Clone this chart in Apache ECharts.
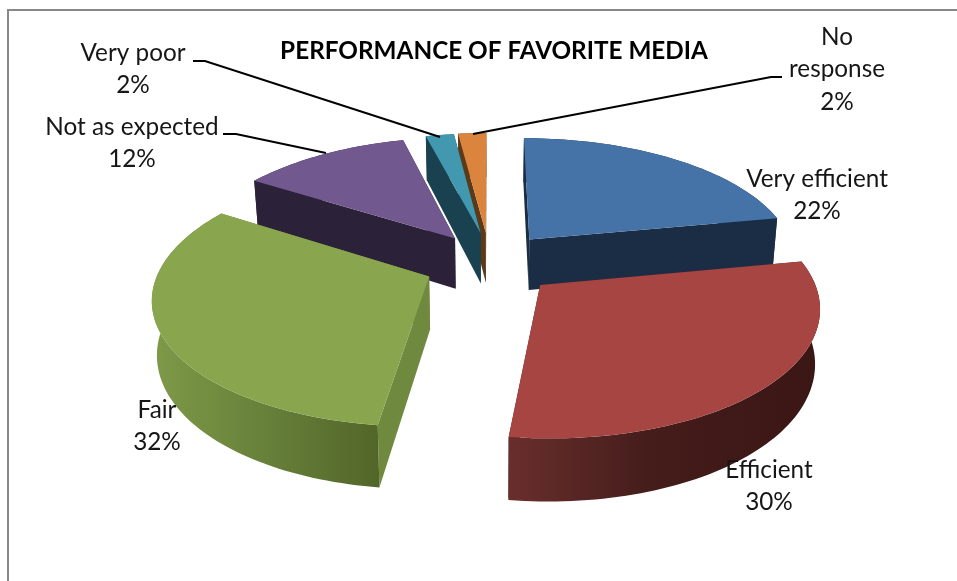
<!DOCTYPE html>
<html>
<head>
<meta charset="utf-8">
<style>html,body{margin:0;padding:0;background:#fff}#chart{width:957px;height:581px}</style>
<script src="https://cdn.jsdelivr.net/npm/echarts@6/dist/echarts.min.js"></script>
</head>
<body>
<div id="chart"></div>
<script>
// Survey answers
const categories = ['Very efficient', 'Efficient', 'Fair', 'Not as expected', 'Very poor', 'No response'];
const shares = [22, 30, 32, 12, 2, 2];

// Fill colours per slice
const topColors = ['#4572a7', '#a64542', '#89a54e', '#71588f', '#4198af', '#db843d'];
const cutColors = ['#1b2d45', '#4a1f1d', '#6f8a3e', '#2b2138', '#1a4150', '#5c3a18'];
const wallStops = [
  [[0, '#1b2d45'], [1, '#1b2d45']],
  [[0, '#682e2c'], [0.45, '#451d1b'], [1, '#3a1614']],
  [[0, '#7f9a48'], [0.5, '#67803a'], [1, '#516528']],
  [[0, '#2b2138'], [1, '#2b2138']],
  [[0, '#1a4150'], [1, '#1a4150']],
  [[0, '#5c3a18'], [1, '#5c3a18']]
];
const wallSpan = [[524, 775], [511, 817], [150, 382], [258, 452], [428, 477], [460, 484]];
// Back-to-front stacking rank
const paintRank = [3, 5, 4, 2, 1, 0];
// Sideways pull of each slice on top of the radial explosion
const sideNudge = [0, 2, 5, 7, 6, 3];

// Projection of the tilted disc
const centre = [487, 263];
const radius = [268, 123];
const perspective = 0.15;
const explode = 0.255;
const depth = 52;
const bottomShrink = 0.985;

// Label blocks: centre x, first line y
const labelLines = [
  { x: 817, y: 179 }, { x: 769, y: 470 }, { x: 157, y: 410 },
  { x: 132, y: 127 }, { x: 133, y: 53 }, { x: 837, y: 37, wrap: ['No', 'response'] }
];
const labelStep = 32.5;
const leaders = { 3: [[223, 134], [236, 134], [326, 153]], 4: [[193, 61], [205, 61], [440, 137]], 5: [[782, 77], [771, 77], [473, 134]] };

function project(wx, wy, lower, nudge) {
  const s = 1 / (1 + perspective * wy);
  const shrink = lower ? bottomShrink : 1;
  return [
    centre[0] + radius[0] * wx * s * shrink + nudge,
    centre[1] - radius[1] * wy * s + (lower ? depth * s : 0)
  ];
}

function renderSlice(params, api) {
  const i = params.dataIndex;
  const value = api.value(1);
  const total = shares.reduce((a, b) => a + b, 0);
  const before = shares.slice(0, i).reduce((a, b) => a + b, 0);
  const a0 = before / total * Math.PI * 2;
  const a1 = (before + value) / total * Math.PI * 2;
  const mid = (a0 + a1) / 2;
  const ox = explode * Math.sin(mid);
  const oy = explode * Math.cos(mid);
  const n = sideNudge[i];

  const steps = Math.max(6, Math.ceil((a1 - a0) * 40));
  const arc = [];
  for (let k = 0; k <= steps; k++) {
    const a = a0 + (a1 - a0) * k / steps;
    arc.push([ox + Math.sin(a), oy + Math.cos(a)]);
  }
  const topArc = arc.map(p => project(p[0], p[1], false, n));
  const lowArc = arc.map(p => project(p[0], p[1], true, n));
  const apexTop = project(ox, oy, false, n);
  const apexLow = project(ox, oy, true, n);
  const base = paintRank[i] * 10 + 1;

  const span = wallSpan[i];
  const wallFill = new echarts.graphic.LinearGradient(span[0], 0, span[1], 0,
    wallStops[i].map(s => ({ offset: s[0], color: s[1] })), true);

  const children = [
    { type: 'polygon', z2: base, silent: true,
      shape: { points: [apexTop, topArc[0], lowArc[0], apexLow] },
      style: { fill: cutColors[i] } },
    { type: 'polygon', z2: base, silent: true,
      shape: { points: [apexTop, topArc[steps], lowArc[steps], apexLow] },
      style: { fill: cutColors[i] } },
    { type: 'polygon', z2: base + 1, silent: true,
      shape: { points: topArc.concat(lowArc.slice().reverse()) },
      style: { fill: wallFill } },
    { type: 'polygon', z2: base + 2, silent: true,
      shape: { points: [apexTop].concat(topArc) },
      style: { fill: topColors[i] } }
  ];

  if (leaders[i]) {
    children.push({ type: 'polyline', z2: 200, silent: true,
      shape: { points: leaders[i] },
      style: { fill: 'none', stroke: '#000', lineWidth: 2 } });
  }
  const spot = labelLines[i];
  const lines = (spot.wrap || [categories[i]]).concat([value + '%']);
  lines.forEach((line, k) => {
    children.push({ type: 'text', z2: 210, silent: true,
      style: { text: line, x: spot.x, y: spot.y + k * labelStep,
        align: 'center', verticalAlign: 'middle',
        font: '24.3px Lato, "Open Sans", sans-serif', fill: '#161616' } });
  });
  return { type: 'group', children };
}

const chart = echarts.init(document.getElementById('chart'), null, { renderer: 'canvas' });
chart.setOption({
  backgroundColor: '#fff',
  animation: false,
  title: {
    text: 'PERFORMANCE OF FAVORITE MEDIA',
    left: 489, top: 34, textAlign: 'center',
    textStyle: { fontFamily: 'Lato, "Open Sans", sans-serif', fontWeight: 'bold', fontSize: 24.3, color: '#000' }
  },
  graphic: [{
    type: 'polyline', silent: true,
    shape: { points: [[8, 581], [8, 10], [957, 10]] },
    style: { fill: 'none', stroke: '#888', lineWidth: 2 }
  }],
  series: [{
    type: 'custom',
    coordinateSystem: 'none',
    renderItem: renderSlice,
    data: categories.map((name, i) => ({ name, value: [i, shares[i]] }))
  }]
});
</script>
</body>
</html>
